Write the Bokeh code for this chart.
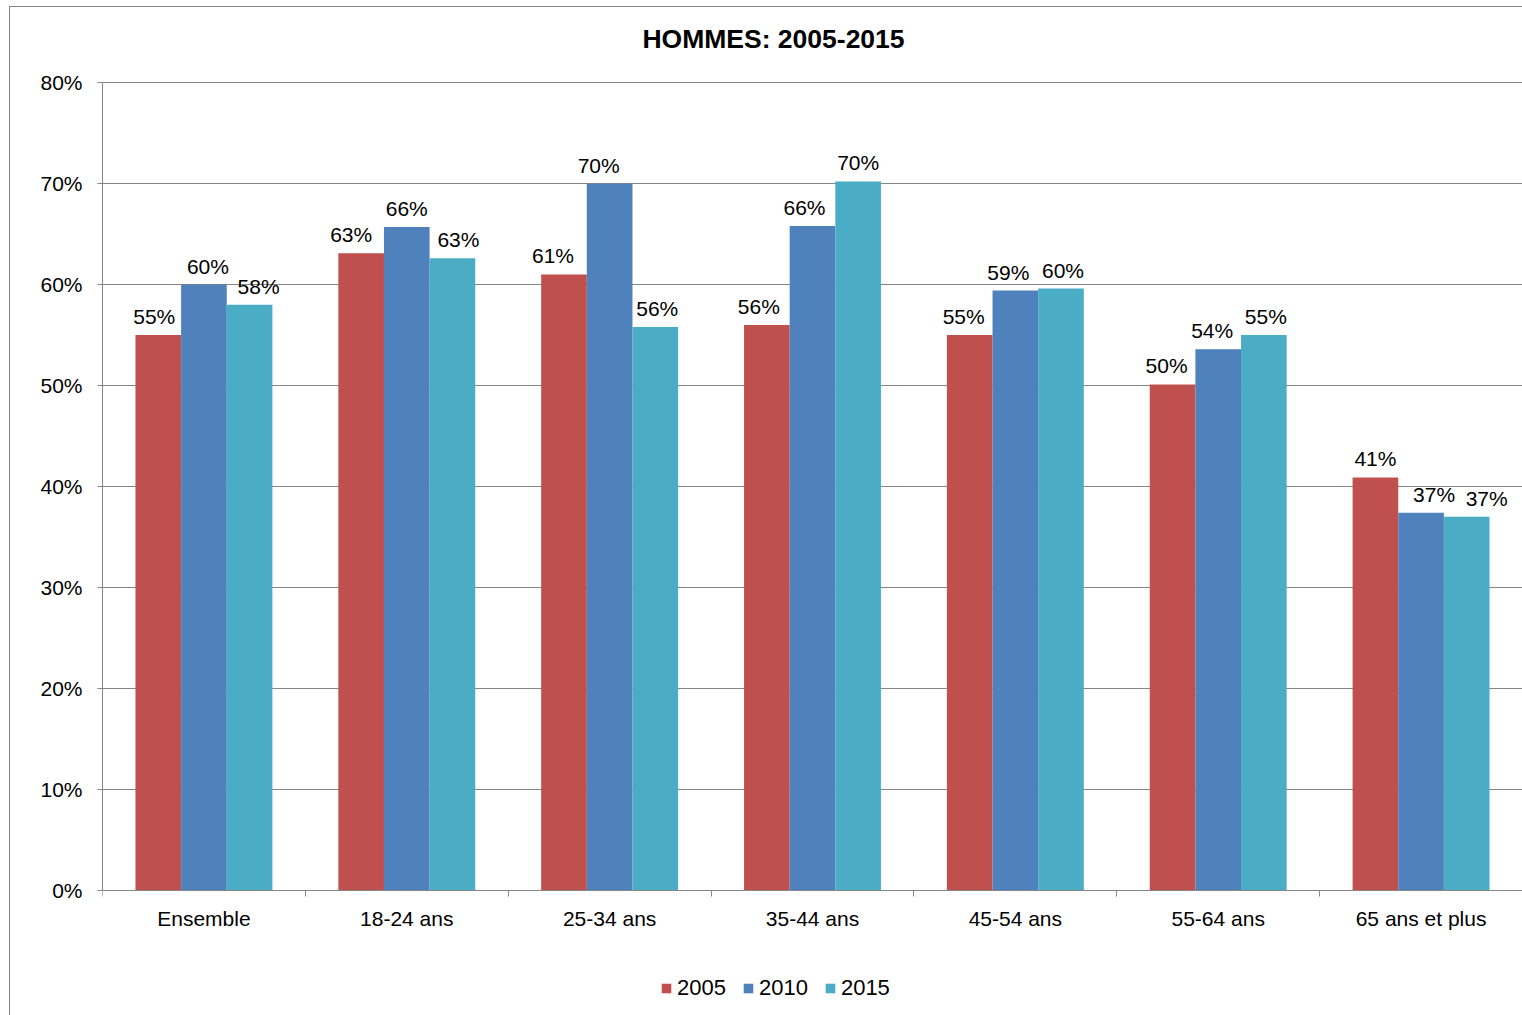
from bokeh.plotting import figure
from bokeh.models import (ColumnDataSource, Range1d, LinearAxis, FixedTicker, NumeralTickFormatter,
                          Legend, LegendItem, LabelSet, Label)
from bokeh.transform import dodge
from bokeh.core.properties import value
from bokeh.embed import file_html
from bokeh.resources import INLINE

# ---- data ----
categories = ["Ensemble", "18-24 ans", "25-34 ans", "35-44 ans", "45-54 ans", "55-64 ans", "65 ans et plus"]
years = ["2005", "2010", "2015"]
v2005 = [0.550, 0.631, 0.610, 0.560, 0.550, 0.501, 0.409]
v2010 = [0.600, 0.657, 0.700, 0.658, 0.594, 0.536, 0.374]
v2015 = [0.580, 0.626, 0.558, 0.702, 0.596, 0.550, 0.370]
y_ticks = [0, 0.1, 0.2, 0.3, 0.4, 0.5, 0.6, 0.7, 0.8]
title_text = "HOMMES: 2005-2015"

# ---- styling ----
colors = ["#C0504D", "#4F81BD", "#4BACC6"]
FONT = "Liberation Sans"
GRID = "#868686"
# horizontal nudges (px) of the value labels, as placed in the original
nudge = {
    "2005": [-4, -10, -11, -8, -6, -6, 0],
    "2010": [4, 0, -11, -8, -7, -6, 13],
    "2015": [9, 6, 2, 0, 2, 2, 20],
}

W, H = 1522, 1015
LEFT = 102                 # frame left (px)
Y0_PX, Y80_PX = 890, 82    # pixel rows of 0% and 80%
px_per_unit = (Y0_PX - Y80_PX) / 0.8

xc = [i + 0.5 for i in range(len(categories))]
data = dict(x=xc, cat=categories, v2005=v2005, v2010=v2010, v2015=v2015)
for yr, vals in zip(years, [v2005, v2010, v2015]):
    data["l" + yr] = [f"{round(v * 100)}%" for v in vals]
    data["dx" + yr] = nudge[yr]
src = ColumnDataSource(data)

y_start = -(H - Y0_PX) / px_per_unit
y_end = 0.8 + Y80_PX / px_per_unit

p = figure(width=W, height=H, output_backend="svg", toolbar_location=None,
           x_range=Range1d(0, len(categories)), y_range=Range1d(y_start, y_end),
           x_axis_type=None, y_axis_location="left",
           min_border_left=LEFT, min_border_top=0, min_border_right=0, min_border_bottom=0)
p.title = None
p.outline_line_color = None
p.background_fill_color = None
p.border_fill_color = None
p.styles = {
    "background": ("linear-gradient(#868686,#868686) 9px 6px / 1px 100% no-repeat, "
                   "linear-gradient(#868686,#868686) 9px 6px / 100% 1px no-repeat, white"),
}

# y axis
ya = p.yaxis[0]
ya.ticker = FixedTicker(ticks=y_ticks)
ya.bounds = (0, 0.8)
ya.formatter = NumeralTickFormatter(format="0%")
ya.axis_line_color = GRID
ya.major_tick_line_color = GRID
ya.major_tick_out = 5
ya.major_tick_in = 0
ya.minor_tick_line_color = None
ya.major_label_standoff = 15
ya.major_label_text_font = FONT
ya.major_label_text_font_size = "21px"
ya.major_label_text_color = "#000000"

p.ygrid.ticker = FixedTicker(ticks=y_ticks)
p.ygrid.grid_line_color = GRID
p.ygrid.grid_line_width = 1
p.xgrid.grid_line_color = None

# x axis: boundary ticks, fixed at y = 0
xa1 = LinearAxis(ticker=FixedTicker(ticks=list(range(len(categories) + 1))), fixed_location=0)
xa1.axis_line_color = GRID
xa1.major_tick_line_color = GRID
xa1.major_tick_out = 6
xa1.major_tick_in = 0
xa1.minor_tick_line_color = None
xa1.major_label_text_font_size = "0px"
xa1.major_label_standoff = 0
xa1.major_label_overrides = {i: "" for i in range(len(categories) + 1)}
p.add_layout(xa1, "below")

# x axis: category labels, fixed at y = 0
xa2 = LinearAxis(ticker=FixedTicker(ticks=xc), fixed_location=0)
xa2.axis_line_color = None
xa2.major_tick_line_color = None
xa2.minor_tick_line_color = None
xa2.major_tick_out = 0
xa2.major_tick_in = 0
xa2.major_label_standoff = 16
xa2.major_label_overrides = {x: c for x, c in zip(xc, categories)}
xa2.major_label_text_font = FONT
xa2.major_label_text_font_size = "21px"
xa2.major_label_text_color = "#000000"
p.add_layout(xa2, "below")

# bars + value labels
bw = 0.225
offsets = [-bw, 0.0, bw]
renderers = []
for yr, col, off in zip(years, colors, offsets):
    r = p.vbar(x=dodge("x", off, range=p.x_range), top="v" + yr, width=bw, bottom=0,
               source=src, fill_color=col, line_color=None)
    renderers.append(r)
    ls = LabelSet(x=dodge("x", off, range=p.x_range), y="v" + yr, text="l" + yr, source=src,
                  x_offset="dx" + yr, y_offset=11, text_align="center", text_baseline="alphabetic",
                  text_font=value(FONT), text_font_size=value("21px"), text_color="#000000")
    p.add_layout(ls)

# title (inside the frame, above the 80% line)
p.add_layout(Label(x=(773 - LEFT) / ((W - LEFT) / len(categories)), y=0.8 + (Y80_PX - 38) / px_per_unit,
                   text=title_text, text_align="center", text_baseline="middle",
                   text_font=FONT, text_font_size="26.5px", text_font_style="bold",
                   text_color="#000000"))

# legend (inside the frame, below the category labels)
legend = Legend(items=[LegendItem(label=yr, renderers=[r]) for yr, r in zip(years, renderers)],
                orientation="horizontal", location=(558, 14),
                glyph_width=12, glyph_height=12, label_standoff=5, spacing=16,
                padding=0, margin=0, border_line_color=None, background_fill_alpha=0,
                label_text_font=FONT, label_text_font_size="22px", label_text_color="#000000",
                label_height=22)
p.add_layout(legend)

open("out.html", "w").write(file_html(p, INLINE))
